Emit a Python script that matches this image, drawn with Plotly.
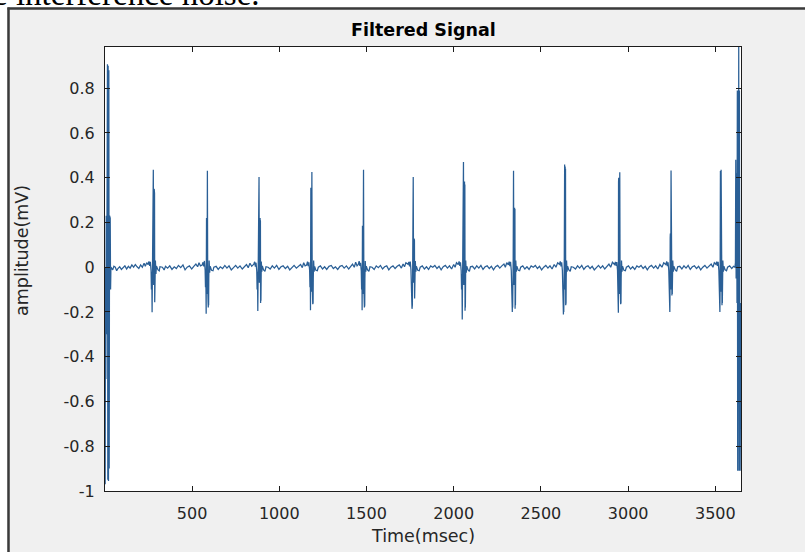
import plotly.graph_objects as go

# ---------------- data (vertices) ----------------
seg_start = [(1, -0.4), (2, -0.97), (4, 0.0), (6, -0.5), (8, 0.23), (10, -0.3), (12, 0.1),
             (15, 0.907), (17, -0.95), (19, 0.9), (21, -0.955), (23, 0.88), (25, -0.9),
             (27, 0.23), (29, -0.5), (31, 0.22), (33, -0.1), (35, 0.0),
             (45, -0.012), (52, 0.004), (60, 0.0), (68, -0.016), (75, -0.006), (85, 0.002),
             (95, -0.01), (105, 0.0), (115, 0.006), (125, -0.008), (135, 0.004), (145, -0.004),
             (155, 0.01), (165, 0.0), (175, 0.012), (185, 0.002), (195, -0.006), (205, 0.01),
             (215, 0.0), (225, 0.018), (232, 0.004), (240, 0.02)]
beat01 = [(248, .012), (253, .026), (257, .006), (261, .024), (265, -.015), (267, -.10), (269, -.02),
          (271, -.201), (272, -.12), (273, -.19), (274, -.11), (276, .04), (278, .435), (280, -.08),
          (282, .30), (283, .35), (284, -.02), (285, .33), (286, -.157), (287, -.10), (288, -.15),
          (289, -.06), (290, .03), (293, -.03), (296, .005)]
gap01 = [(305, -0.012), (312, -0.016), (316, 0.002), (330, 0.0), (340, -0.012), (348, 0.004),
         (360, -0.004), (372, 0.006), (385, -0.01), (398, 0.002), (410, -0.006), (422, 0.008),
         (435, -0.002), (448, 0.01), (460, -0.012), (472, 0.0), (485, 0.006), (498, -0.008),
         (510, 0.004), (522, 0.014), (532, 0.002), (540, 0.02), (548, 0.006)]
beat02 = [(558, .01), (563, .022), (567, .004), (571, .028), (575, -.012), (577, -.09), (579, -.03),
          (581, -.208), (582, .20), (583, .22), (584, -.05), (585, .21), (586, -.12), (588, .431),
          (590, -.09), (592, -.16), (593, -.18), (594, -.12), (595, -.17), (596, -.05),
          (598, .03), (601, -.025), (604, .004)]
gap02 = [(612, -0.014), (620, -0.016), (625, 0.0), (638, 0.004), (650, -0.01), (662, 0.002),
         (675, -0.006), (688, 0.008), (700, -0.004), (712, 0.006), (725, -0.012), (738, 0.0),
         (750, 0.008), (762, -0.004), (775, 0.006), (788, -0.008), (800, 0.004), (812, 0.012),
         (822, -0.002), (832, 0.018), (842, 0.004)]
beat03 = [(854, .014), (859, .024), (863, .002), (867, .02), (871, -.018), (873, -.1), (875, -.02),
          (877, -.196), (878, -.12), (879, -.18), (880, -.1), (882, .05), (884, .403), (886, -.07),
          (889, .20), (890, .22), (891, -.03), (892, .21), (893, -.16), (894, -.10), (895, -.15),
          (896, -.05), (897, .025), (900, -.02), (903, .006)]
gap03 = [(910, -0.012), (918, -0.018), (924, 0.002), (936, 0.0), (948, -0.008), (960, 0.006),
         (972, -0.004), (985, 0.008), (998, -0.01), (1010, 0.002), (1022, 0.006), (1035, -0.006),
         (1048, 0.004), (1060, -0.012), (1072, 0.0), (1085, 0.008), (1098, -0.004), (1110, 0.006),
         (1122, 0.012), (1132, -0.002), (1140, 0.02), (1148, 0.006)]
beat04 = [(1157, .01), (1162, .025), (1166, .005), (1170, .022), (1174, -.014), (1176, -.09),
          (1178, -.02), (1179, -.192), (1180, .33), (1181, .355), (1182, -.04), (1183, .34),
          (1184, -.11), (1187, .425), (1189, -.08), (1191, -.15), (1192, -.165), (1193, -.11),
          (1194, -.16), (1195, -.05), (1197, .03), (1200, -.02), (1203, .004)]
gap04 = [(1210, -0.014), (1218, -0.016), (1224, 0.0), (1236, 0.006), (1248, -0.008), (1260, 0.002),
         (1272, -0.01), (1285, 0.004), (1298, 0.008), (1310, -0.006), (1322, 0.002), (1335, -0.01),
         (1348, 0.004), (1360, 0.008), (1372, -0.004), (1385, 0.006), (1398, -0.008), (1410, 0.004),
         (1420, 0.014), (1430, 0.0), (1438, 0.022), (1446, 0.006)]
beat05 = [(1453, .012), (1458, .027), (1462, .006), (1466, .02), (1470, -.015), (1472, -.1),
          (1474, -.03), (1475, -.192), (1476, .17), (1477, .185), (1478, -.05), (1479, .17),
          (1480, -.12), (1483, .435), (1485, -.09), (1487, -.16), (1488, -.18), (1489, -.12),
          (1490, -.17), (1491, -.05), (1493, .028), (1496, -.02), (1499, .005)]
gap05 = [(1506, -0.012), (1514, -0.018), (1520, 0.002), (1532, 0.0), (1544, -0.01), (1556, 0.006),
         (1568, -0.002), (1580, 0.008), (1592, -0.008), (1604, 0.002), (1616, 0.006), (1628, -0.012),
         (1640, 0.0), (1652, 0.006), (1664, -0.006), (1676, 0.004), (1688, 0.01), (1700, -0.004),
         (1710, 0.014), (1718, 0.002), (1726, 0.02)]
beat06 = [(1738, .013), (1743, .024), (1747, .004), (1751, .025), (1755, -.012), (1757, -.085),
          (1759, -.02), (1761, -.186), (1762, -.11), (1763, -.17), (1764, -.1), (1766, .05),
          (1768, .403), (1770, -.07), (1772, .11), (1773, .128), (1774, -.04), (1775, .12),
          (1776, -.14), (1777, -.09), (1778, -.13), (1779, -.05), (1780, .028), (1783, -.02),
          (1786, .004)]
gap06 = [(1794, -0.014), (1802, -0.016), (1808, 0.0), (1820, 0.006), (1832, -0.008), (1844, 0.002),
         (1856, -0.01), (1868, 0.006), (1880, 0.0), (1892, 0.008), (1904, -0.006), (1916, 0.004),
         (1928, -0.012), (1940, 0.002), (1952, 0.008), (1964, -0.004), (1976, 0.006), (1988, -0.008),
         (2000, 0.012), (2008, 0.0), (2016, 0.02)]
beat07 = [(2026, .012), (2031, .026), (2035, .006), (2039, .022), (2043, -.016), (2045, -.1),
          (2047, -.03), (2049, -.234), (2050, -.14), (2051, -.22), (2052, -.11), (2054, .05),
          (2056, .47), (2058, -.08), (2061, .36), (2062, .383), (2063, -.03), (2064, .37),
          (2065, -.195), (2066, -.12), (2067, -.18), (2068, -.06), (2069, .03), (2072, -.025),
          (2075, .005)]
gap07 = [(2082, -0.012), (2090, -0.018), (2096, 0.002), (2108, 0.004), (2120, -0.008), (2132, 0.006),
         (2144, -0.004), (2156, 0.008), (2168, -0.01), (2180, 0.002), (2192, 0.006), (2204, -0.006),
         (2216, 0.004), (2228, -0.012), (2240, 0.002), (2252, 0.008), (2264, -0.004), (2276, 0.006),
         (2288, 0.014), (2296, 0.0), (2304, 0.02)]
beat08 = [(2313, .011), (2318, .025), (2322, .005), (2326, .024), (2330, -.014), (2332, -.095),
          (2334, -.02), (2336, -.2), (2337, -.12), (2338, -.18), (2339, -.1), (2341, .04),
          (2343, .431), (2345, -.08), (2348, .25), (2349, .266), (2350, -.03), (2351, .26),
          (2352, -.186), (2353, -.11), (2354, -.17), (2355, -.05), (2356, .03), (2359, -.02),
          (2362, .005)]
gap08 = [(2370, -0.014), (2378, -0.016), (2384, 0.0), (2396, 0.006), (2408, -0.008), (2420, 0.002),
         (2432, -0.01), (2444, 0.006), (2456, 0.0), (2468, 0.008), (2480, -0.006), (2492, 0.004),
         (2504, -0.012), (2516, 0.0), (2528, 0.008), (2540, -0.004), (2552, 0.006), (2564, -0.008),
         (2576, 0.012), (2586, 0.0), (2596, 0.02)]
beat09 = [(2606, .013), (2611, .026), (2615, .004), (2619, .022), (2623, -.015), (2625, -.1),
          (2627, -.03), (2629, -.211), (2630, -.13), (2631, -.2), (2632, -.1), (2634, .05),
          (2636, .459), (2637, -.1), (2638, .43), (2639, .45), (2640, -.05), (2641, .44),
          (2642, -.17), (2643, -.11), (2644, -.16), (2645, -.05), (2647, .03), (2650, -.02),
          (2653, .004)]
gap09 = [(2660, -0.012), (2668, -0.018), (2674, 0.002), (2686, 0.0), (2698, -0.008), (2710, 0.006),
         (2722, -0.004), (2734, 0.008), (2746, -0.01), (2758, 0.002), (2770, 0.006), (2782, -0.006),
         (2794, 0.004), (2806, -0.012), (2818, 0.0), (2830, 0.008), (2842, -0.004), (2854, 0.006),
         (2866, -0.008), (2878, 0.004), (2890, 0.014), (2900, 0.0), (2910, 0.022)]
beat10 = [(2922, .012), (2927, .024), (2931, .006), (2935, .023), (2939, -.013), (2941, -.09),
          (2943, -.02), (2944, -.204), (2945, .38), (2946, .40), (2947, -.04), (2948, .39),
          (2949, -.12), (2952, .424), (2954, -.08), (2956, -.15), (2957, -.165), (2958, -.11),
          (2959, -.16), (2960, -.05), (2962, .03), (2965, -.02), (2968, .005)]
gap10 = [(2976, -0.014), (2984, -0.016), (2990, 0.0), (3002, 0.006), (3014, -0.008), (3026, 0.002),
         (3038, -0.01), (3050, 0.006), (3062, 0.0), (3074, 0.008), (3086, -0.006), (3098, 0.004),
         (3110, -0.012), (3122, 0.002), (3134, 0.008), (3146, -0.004), (3158, 0.006), (3170, -0.008),
         (3182, 0.012), (3194, 0.0), (3204, 0.02)]
beat11 = [(3216, .012), (3221, .026), (3225, .005), (3229, .022), (3233, -.016), (3235, -.09),
          (3237, -.02), (3239, -.2), (3240, -.12), (3241, .13), (3242, .15), (3243, -.05),
          (3244, -.1), (3246, .432), (3248, -.07), (3250, -.11), (3251, -.126), (3252, -.08),
          (3253, -.12), (3254, -.04), (3256, .03), (3259, -.02), (3262, .004)]
gap11 = [(3270, -0.012), (3278, -0.018), (3284, 0.002), (3296, 0.004), (3308, -0.008), (3320, 0.006),
         (3332, -0.004), (3344, 0.008), (3356, -0.01), (3368, 0.002), (3380, 0.006), (3392, -0.006),
         (3404, 0.004), (3416, -0.012), (3428, 0.0), (3440, 0.008), (3452, -0.004), (3464, 0.006),
         (3476, 0.014), (3486, 0.0), (3494, 0.02)]
beat12 = [(3503, .013), (3508, .025), (3512, .006), (3516, .024), (3520, -.014), (3522, -.1),
          (3524, -.03), (3526, -.2), (3527, -.12), (3528, .41), (3529, .43), (3530, -.04),
          (3531, -.11), (3533, .435), (3535, -.09), (3537, -.15), (3538, -.17), (3539, -.11),
          (3540, -.16), (3541, -.05), (3543, .03), (3546, -.02), (3549, .005)]
seg_end = [(3556, -0.012), (3564, -0.016), (3570, 0.0), (3582, 0.006), (3594, -0.006), (3604, 0.004),
           (3612, 0.0), (3615, 0.02), (3617, 0.48), (3619, -0.05), (3622, 0.42), (3624, -0.16),
           (3626, 0.79), (3628, -0.91), (3630, 0.79), (3632, -0.6), (3634, 0.984), (3636, -0.91),
           (3638, 0.79), (3640, -0.16), (3642, -0.91), (3644, -0.3), (3646, -0.91), (3647, -0.16)]

segments = [seg_start, beat01, gap01, beat02, gap02, beat03, gap03, beat04, gap04, beat05, gap05,
            beat06, gap06, beat07, gap07, beat08, gap08, beat09, gap09, beat10, gap10, beat11, gap11,
            beat12, seg_end]

x_tick_vals = [500, 1000, 1500, 2000, 2500, 3000, 3500]
x_tick_text = ["500", "1000", "1500", "2000", "2500", "3000", "3500"]
y_tick_vals = [0.8, 0.6, 0.4, 0.2, 0, -0.2, -0.4, -0.6, -0.8, -1]
y_tick_text = ["0.8", "0.6", "0.4", "0.2", "0", "-0.2", "-0.4", "-0.6", "-0.8", "-1"]

time_ms = [p[0] for seg in segments for p in seg]
amplitude_mv = [p[1] for seg in segments for p in seg]

# ---------------- figure ----------------
W, H = 805, 552
L, R, T, B = 105, 64, 47, 61
PW, PH = W - L - R, H - T - B


def px(x):
    return (x - L) / PW


def py(y):
    return (H - B - y) / PH


AX = "#1c1c1c"
TXT = "#262626"

fig = go.Figure(go.Scatter(x=time_ms, y=amplitude_mv, mode="lines",
                           line=dict(color="#2a5f96", width=1.25), hoverinfo="skip"))

axis_common = dict(showgrid=False, zeroline=False, showline=True, linecolor=AX, linewidth=1,
                   mirror="allticks", ticks="inside", ticklen=5, tickcolor=AX, tickwidth=1,
                   tickfont=dict(family="DejaVu Sans", size=16, color=TXT))
fig.update_xaxes(range=[1, 3647], tickmode="array", tickvals=x_tick_vals, ticktext=x_tick_text,
                 ticklabelstandoff=8, **axis_common)
fig.update_yaxes(range=[-1, 0.984], tickmode="array", tickvals=y_tick_vals, ticktext=y_tick_text,
                 ticklabelstandoff=6, **axis_common)

shapes = [
    dict(type="rect", xref="paper", yref="paper", x0=px(-20), x1=px(830), y0=py(7), y1=py(-20),
         fillcolor="white", line=dict(width=0), layer="above"),
    dict(type="rect", xref="paper", yref="paper", x0=px(-20), x1=px(7), y0=py(580), y1=py(-20),
         fillcolor="white", line=dict(width=0), layer="above"),
    dict(type="line", xref="paper", yref="paper", x0=px(7.5), x1=px(830), y0=py(8.5), y1=py(8.5),
         line=dict(color="#3a3a3a", width=2.5), layer="above"),
    dict(type="line", xref="paper", yref="paper", x0=px(8.5), x1=px(8.5), y0=py(580), y1=py(7.5),
         line=dict(color="#3a3a3a", width=2.5), layer="above"),
]

annotations = [
    dict(text="e interference noise.", xref="paper", yref="paper", x=px(-8), y=py(13),
         xanchor="left", yanchor="bottom", showarrow=False, borderpad=0,
         font=dict(family="Liberation Serif", size=33, color="black")),
    dict(text="<b>Filtered Signal</b>", xref="paper", yref="paper", x=px(423), y=py(30),
         xanchor="center", yanchor="middle", showarrow=False,
         font=dict(family="DejaVu Sans", size=17.5, color="black")),
    dict(text="Time(msec)", xref="paper", yref="paper", x=px(423), y=py(536),
         xanchor="center", yanchor="middle", showarrow=False,
         font=dict(family="DejaVu Sans", size=17.5, color=TXT)),
    dict(text="amplitude(mV)", xref="paper", yref="paper", x=px(22), y=py(251),
         xanchor="center", yanchor="middle", textangle=-90, showarrow=False,
         font=dict(family="DejaVu Sans", size=17.5, color=TXT)),
]

fig.update_layout(width=W, height=H, autosize=False,
                  margin=dict(l=L, r=R, t=T, b=B, pad=0),
                  paper_bgcolor="#f0f0f0", plot_bgcolor="white",
                  showlegend=False, shapes=shapes, annotations=annotations)

fig.write_html("out.html", config={"displayModeBar": False},
               post_script="document.body.style.margin='0px';")
